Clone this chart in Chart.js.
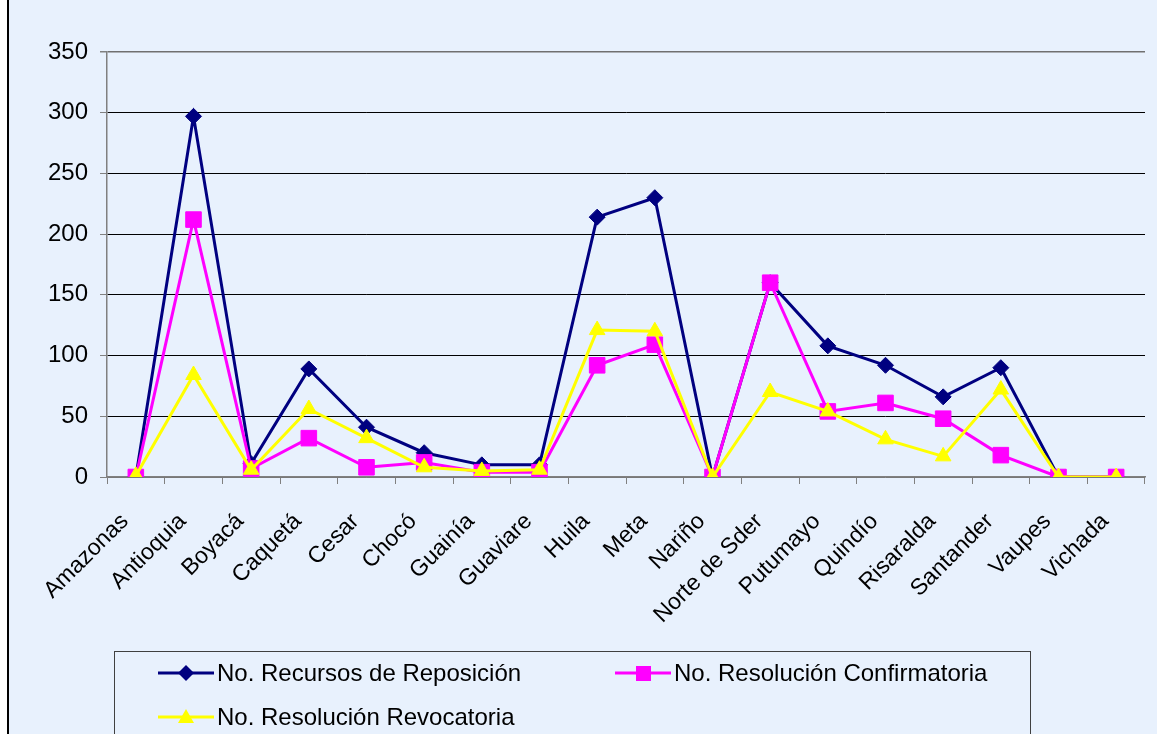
<!DOCTYPE html>
<html lang="es">
<head>
<meta charset="utf-8">
<title>Recursos por departamento</title>
<script src="https://cdn.jsdelivr.net/npm/chart.js@4/dist/chart.umd.min.js"></script>
<style>
  html, body { margin: 0; padding: 0; background: #fff; }
  #marco { position: relative; width: 1157px; height: 734px; overflow: hidden; background: #fff; }
  #fondo { position: absolute; left: 7px; top: 0; right: 0; bottom: 0; background: #e8f1fd; border-left: 2px solid #000; }
  #grafico { position: absolute; left: 0; top: 0; }
  #leyenda {
    position: absolute; left: 114px; top: 651px; width: 915px; height: 120px;
    border: 1px solid #404040;
    font-family: "Liberation Sans", Arial, sans-serif; font-size: 24px; color: #000;
  }
  .item { position: absolute; display: flex; align-items: center; height: 30px; white-space: nowrap; }
  .item svg { margin-right: 3px; }
</style>
</head>
<body>
<div id="marco">
  <div id="fondo"></div>
  <canvas id="grafico" width="1157" height="734"></canvas>
  <div id="leyenda"></div>
</div>
<script>
  "use strict";

  const departamentos = [
    "Amazonas", "Antioquia", "Boyacá", "Caquetá", "Cesar", "Chocó", "Guainía",
    "Guaviare", "Huila", "Meta", "Nariño", "Norte de Sder", "Putumayo", "Quindío",
    "Risaralda", "Santander", "Vaupes", "Vichada",
  ];

  const recursosReposicion = [0, 297, 11, 89, 41, 20, 10, 10, 214, 230, 0, 160, 108, 92, 66, 90, 0, 0];
  const resolucionConfirmatoria = [0, 212, 7, 32, 8, 12, 4, 4, 92, 109, 0, 160, 54, 61, 48, 18, 0, 0];
  const resolucionRevocatoria = [1, 84, 6, 56, 32, 8, 5, 6, 121, 120, 0, 70, 54, 31, 17, 72, 0, 0];

  const ticksY = [0, 50, 100, 150, 200, 250, 300, 350];

  const series = [
    { label: "No. Recursos de Reposición", data: recursosReposicion, color: "#000080", punto: "rectRot", radio: 8, orden: 3 },
    { label: "No. Resolución Confirmatoria", data: resolucionConfirmatoria, color: "#ff00ff", punto: "rect", radio: 11, orden: 2 },
    { label: "No. Resolución Revocatoria", data: resolucionRevocatoria, color: "#ffff00", punto: "triangle", radio: 9, orden: 1 },
  ];

  const fuente = "'Liberation Sans', Arial, sans-serif";

  new Chart(document.getElementById("grafico"), {
    type: "line",
    data: {
      labels: departamentos,
      datasets: series.map((s) => ({
        label: s.label,
        data: s.data,
        order: s.orden,
        borderColor: s.color,
        backgroundColor: s.color,
        borderWidth: 3,
        tension: 0,
        pointStyle: s.punto,
        pointRadius: s.radio,
        pointBackgroundColor: s.color,
        pointBorderColor: s.color,
        pointBorderWidth: 1,
      })),
    },
    options: {
      responsive: false,
      animation: false,
      layout: { padding: { top: 52, right: 10, left: 0, bottom: 0 } },
      plugins: { legend: { display: false }, tooltip: { enabled: false } },
      scales: {
        x: {
          offset: true,
          afterFit: (scale) => {
            scale.height = 257;
            // las etiquetas giradas no deben recortar el área del gráfico
            scale.paddingLeft = 0;
            scale.paddingRight = 0;
          },
          border: { display: true, color: "#808080", width: 1.5 },
          grid: {
            offset: true,
            drawOnChartArea: false,
            drawTicks: true,
            tickLength: 7,
            color: "#808080",
          },
          ticks: {
            autoSkip: false,
            minRotation: 45,
            maxRotation: 45,
            padding: 24,
            labelOffset: -11,
            color: "#000",
            font: { family: fuente, size: 23 },
          },
        },
        y: {
          min: 0,
          max: 350,
          afterFit: (scale) => { scale.width = 107; },
          afterBuildTicks: (scale) => { scale.ticks = ticksY.map((v) => ({ value: v })); },
          border: { display: true, color: "#808080", width: 1.5 },
          grid: {
            color: (ctx) => (ctx.tick && (ctx.tick.value === 350 || ctx.tick.value === 0) ? "#707070" : "#000"),
            lineWidth: (ctx) => (ctx.tick && ctx.tick.value === 350 ? 1.5 : 1),
            tickColor: "#808080",
            tickLength: 7,
          },
          ticks: {
            padding: 12,
            color: "#000",
            font: { family: fuente, size: 24 },
          },
        },
      },
    },
  });

  // leyenda con recuadro, igual que en el original
  function muestra(s) {
    let marca = "";
    if (s.punto === "rectRot") marca = `<polygon points="28,2 36,10 28,18 20,10" fill="${s.color}"/>`;
    else if (s.punto === "rect") marca = `<rect x="21" y="3" width="15" height="15" fill="${s.color}"/>`;
    else marca = `<polygon points="28,2 36,16 20,16" fill="${s.color}"/>`;
    return `<svg width="56" height="20" viewBox="0 0 56 20">
      <line x1="0" y1="10" x2="56" y2="10" stroke="${s.color}" stroke-width="3"/>${marca}</svg>`;
  }

  const posiciones = [
    { left: 43, top: 6 },
    { left: 500, top: 6 },
    { left: 43, top: 50 },
  ];

  document.getElementById("leyenda").innerHTML = series
    .map((s, i) => `<div class="item" style="left:${posiciones[i].left}px;top:${posiciones[i].top}px">${muestra(s)}<span>${s.label}</span></div>`)
    .join("");
</script>
</body>
</html>
